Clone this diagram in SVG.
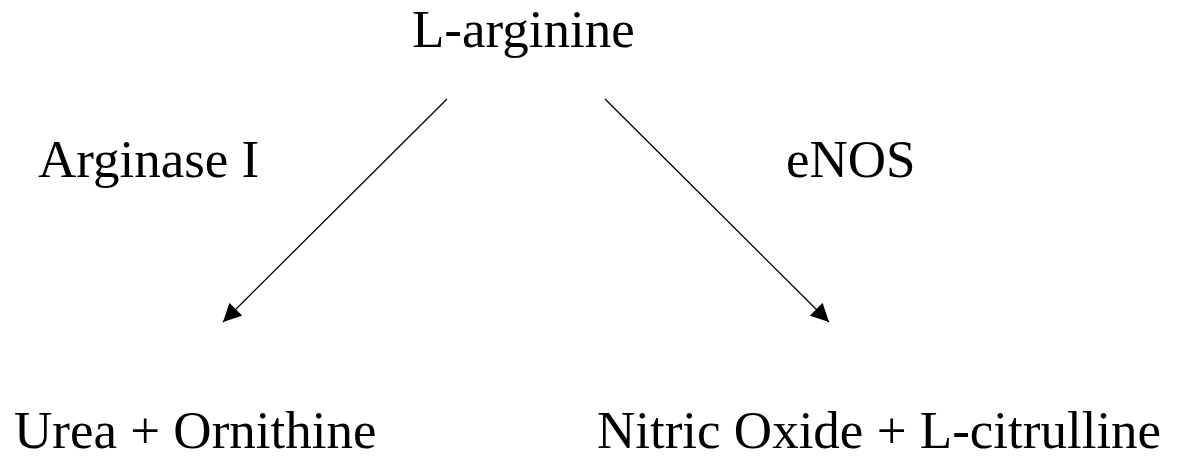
<svg xmlns="http://www.w3.org/2000/svg" width="1181" height="460" viewBox="0 0 1181 460">
<style>
text{font-family:"Liberation Serif","Times New Roman",serif;font-size:53px;fill:#000}
.c{stroke:#000;stroke-width:1.3;fill:none}
</style>
<defs>
<marker id="ah" viewBox="0 0 10 10" refX="10" refY="5" markerWidth="20" markerHeight="18" markerUnits="userSpaceOnUse" orient="auto">
<path d="M0,0 L10,5 L0,10 z" fill="#000"/>
</marker>
</defs>
<rect width="1181" height="460" fill="#fff"/>
<g id="connectors">
<line class="c" x1="447" y1="99" x2="223" y2="322" marker-end="url(#ah)"/>
<line class="c" x1="605" y1="99" x2="829" y2="322" marker-end="url(#ah)"/>
</g>
<g id="n-arginine"><text x="412" y="47">L-arginine</text></g>
<g id="l-arginase"><text x="38" y="177">Arginase I</text></g>
<g id="l-enos"><text x="786" y="177">eNOS</text></g>
<g id="n-urea"><text x="14" y="448">Urea + Ornithine</text></g>
<g id="n-no"><text x="597" y="448">Nitric Oxide + L-citrulline</text></g>
</svg>
